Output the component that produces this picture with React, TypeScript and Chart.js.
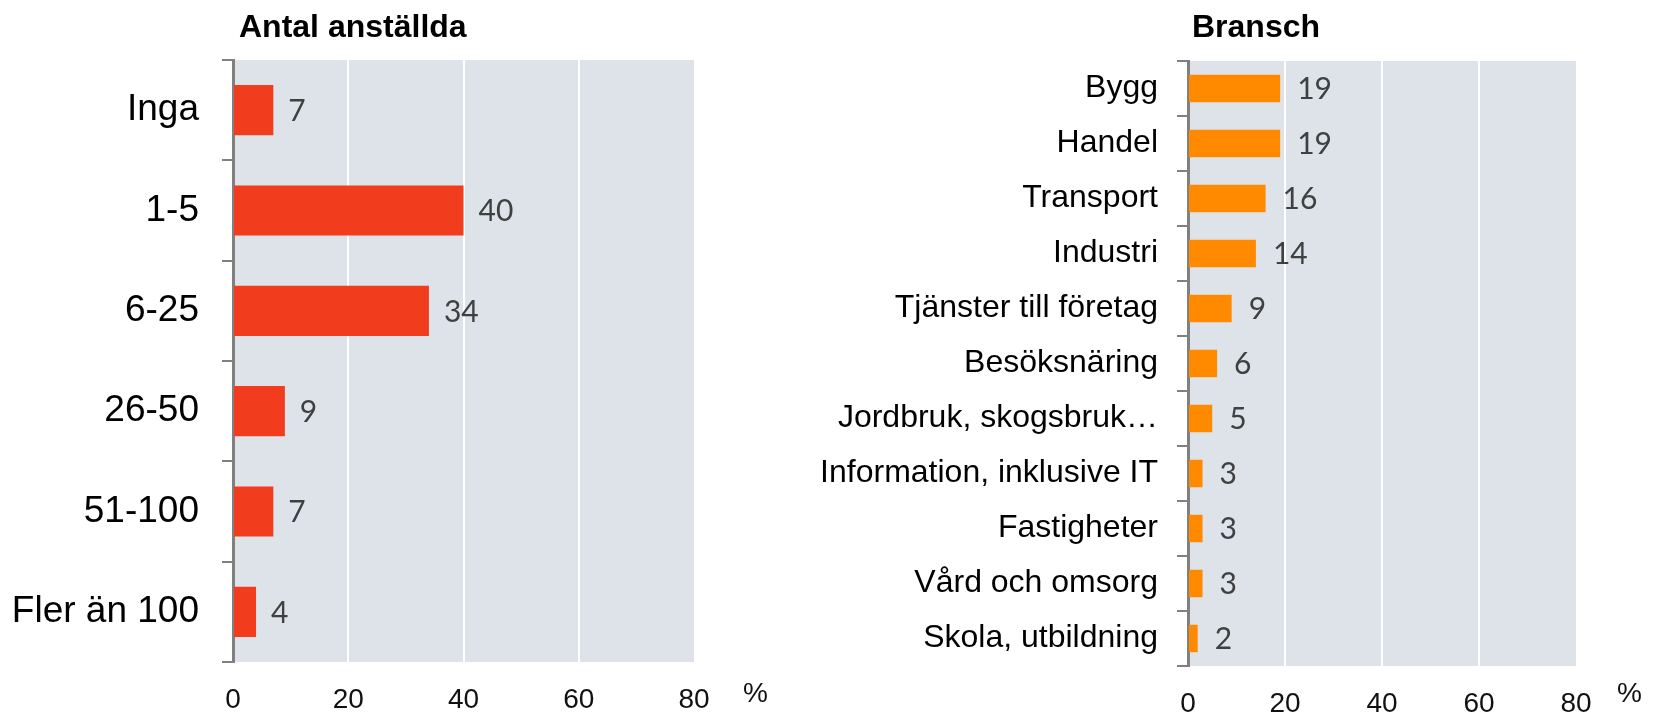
import React, { useEffect, useRef } from "react";
import { Chart, registerables } from "chart.js";

Chart.register(...registerables);

const leftTitle = "Antal anställda";
const leftCategories = ["Inga", "1-5", "6-25", "26-50", "51-100", "Fler än 100"];
const leftValues = [7, 40, 34, 9, 7, 4];

const rightTitle = "Bransch";
const rightCategories = [
  "Bygg",
  "Handel",
  "Transport",
  "Industri",
  "Tjänster till företag",
  "Besöksnäring",
  "Jordbruk, skogsbruk…",
  "Information, inklusive IT",
  "Fastigheter",
  "Vård och omsorg",
  "Skola, utbildning",
];
const rightValues = [19, 19, 16, 14, 9, 6, 5, 3, 3, 3, 2];

const xMin = 0;
const xMax = 80;
const xStep = 20;
const unitLabel = "%";

const FONT = "'Liberation Sans', Arial, sans-serif";
const VALUE_FONT = "Lato, 'Open Sans', sans-serif";

const decorPlugin = {
  id: "decor",
  beforeDraw(chart: any) {
    const { ctx, chartArea } = chart;
    ctx.save();
    ctx.fillStyle = "#DDE3E9";
    ctx.fillRect(chartArea.left, chartArea.top, chartArea.right - chartArea.left, chartArea.bottom - chartArea.top);
    ctx.restore();
  },
  afterDatasetsDraw(chart: any, _args: any, opts: any) {
    const { ctx } = chart;
    const meta = chart.getDatasetMeta(0);
    const data = chart.data.datasets[0].data;
    ctx.save();
    ctx.fillStyle = "#404040";
    ctx.font = `${opts.valueSize}px ${VALUE_FONT}`;
    ctx.textAlign = "left";
    ctx.textBaseline = "middle";
    meta.data.forEach((bar: any, i: number) => {
      ctx.fillText(String(data[i]), bar.x + opts.valueGap, bar.y + 1);
    });
    ctx.restore();
  },
  afterDraw(chart: any, _args: any, opts: any) {
    const { ctx, chartArea } = chart;
    ctx.save();
    ctx.fillStyle = "#000";
    ctx.font = `bold 32px ${FONT}`;
    ctx.textAlign = "left";
    ctx.textBaseline = "middle";
    ctx.fillText(opts.title, chartArea.left + opts.titleDx, 28);
    ctx.font = `28px ${FONT}`;
    ctx.fillStyle = "#111";
    ctx.fillText(unitLabel, chartArea.right + opts.unitDx, 694);
    ctx.restore();
  },
};

function makeConfig(p: {
  labels: string[];
  values: number[];
  color: string;
  title: string;
  yWidth: number;
  xHeight: number;
  padRight: number;
  padTop: number;
  labelSize: number;
  labelPad: number;
  valueGap: number;
  titleDx: number;
  unitDx: number;
}): any {
  return {
    type: "bar",
    data: {
      labels: p.labels,
      datasets: [
        {
          data: p.values,
          backgroundColor: p.color,
          borderWidth: 0,
          barPercentage: 0.5,
          categoryPercentage: 1,
        },
      ],
    },
    options: {
      indexAxis: "y",
      animation: false,
      responsive: false,
      maintainAspectRatio: false,
      layout: { padding: { left: 0, right: p.padRight, top: p.padTop, bottom: 0 } },
      plugins: {
        legend: { display: false },
        tooltip: { enabled: false },
        title: { display: false },
        decor: {
          title: p.title,
          valueSize: 30,
          valueGap: p.valueGap,
          titleDx: p.titleDx,
          unitDx: p.unitDx,
        },
      },
      scales: {
        x: {
          min: xMin,
          max: xMax,
          ticks: {
            stepSize: xStep,
            color: "#111",
            font: { family: FONT, size: 28 },
            padding: 21,
            maxRotation: 0,
          },
          grid: {
            drawTicks: false,
            lineWidth: 2,
            color: (c: any) =>
              c.tick && (c.tick.value === xMin || c.tick.value === xMax) ? "rgba(0,0,0,0)" : "#FFFFFF",
          },
          border: { display: false },
          afterFit: (scale: any) => {
            scale.height = p.xHeight;
          },
        },
        y: {
          ticks: {
            color: "#000",
            font: { family: FONT, size: p.labelSize },
            padding: p.labelPad,
            autoSkip: false,
          },
          grid: {
            offset: true,
            drawOnChartArea: false,
            drawTicks: true,
            tickLength: 11,
            color: "#808080",
            lineWidth: 2,
          },
          border: { display: true, color: "#808080", width: 3 },
          afterFit: (scale: any) => {
            scale.width = p.yWidth;
          },
        },
      },
    },
    plugins: [decorPlugin],
  };
}

export default function App() {
  const leftRef = useRef<HTMLCanvasElement>(null);
  const rightRef = useRef<HTMLCanvasElement>(null);

  useEffect(() => {
    const left = new Chart(
      leftRef.current!,
      makeConfig({
        labels: leftCategories,
        values: leftValues,
        color: "#F23C1E",
        title: leftTitle,
        yWidth: 233,
        xHeight: 52,
        padRight: 106,
        padTop: 60,
        labelSize: 37,
        labelPad: 23,
        valueGap: 15,
        titleDx: 6,
        unitDx: 49,
      })
    );
    const right = new Chart(
      rightRef.current!,
      makeConfig({
        labels: rightCategories,
        values: rightValues,
        color: "#FF8A00",
        title: rightTitle,
        yWidth: 388,
        xHeight: 48,
        padRight: 78,
        padTop: 61,
        labelSize: 32,
        labelPad: 19,
        valueGap: 17,
        titleDx: 4,
        unitDx: 41,
      })
    );
    return () => {
      left.destroy();
      right.destroy();
    };
  }, []);

  return (
    <div style={{ position: "absolute", left: 0, top: 0, width: 1654, height: 714, background: "#fff" }}>
      <canvas
        ref={leftRef}
        width={800}
        height={714}
        style={{ position: "absolute", left: 0, top: 0, width: 800, height: 714 }}
      />
      <canvas
        ref={rightRef}
        width={854}
        height={714}
        style={{ position: "absolute", left: 800, top: 0, width: 854, height: 714 }}
      />
    </div>
  );
}
